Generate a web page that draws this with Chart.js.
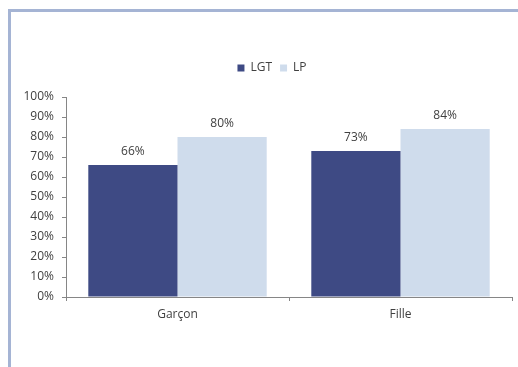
<!DOCTYPE html>
<html>
<head>
<meta charset="utf-8">
<script src="https://cdn.jsdelivr.net/npm/chart.js@4/dist/chart.umd.min.js"></script>
<style>
    html, body { margin: 0; padding: 0; background: #ffffff; }
    #wrap { position: relative; width: 518px; height: 367px; overflow: hidden; }
    #frame {
        position: absolute; left: 8px; top: 9px; width: 520px; height: 370px;
        border-top: 3px solid #a5b4d4; border-left: 3px solid #a5b4d4;
    }
    #chart { position: absolute; left: 0; top: 0; }
</style>
</head>
<body>
<div id="wrap">
    <div id="frame"></div>
    <canvas id="chart" width="518" height="367"></canvas>
</div>
<script>
// Categories and series (share in %)
const categories = ['Garçon', 'Fille'];
const lgtValues = [66, 73];
const lpValues = [80, 84];
const yTicks = [0, 10, 20, 30, 40, 50, 60, 70, 80, 90, 100];

const TEXT_COLOR = '#404040';
const AXIS_COLOR = '#868686';
const FONT = '"Open Sans", "DejaVu Sans", sans-serif';

// Extra room under the legend row, and legend nudged over the plot
const legendGap = {
    id: 'legendGap',
    afterInit(chart) {
        const fit = chart.legend.fit;
        chart.legend.fit = function () {
            fit.call(this);
            this.height += 13;
        };
    },
    afterLayout(chart) {
        chart.legend.left += 8;
        chart.legend.right += 8;
    }
};

// Value labels above each bar
const valueLabels = {
    id: 'valueLabels',
    afterDatasetsDraw(chart) {
        const ctx = chart.ctx;
        ctx.save();
        ctx.font = '12px ' + FONT;
        ctx.fillStyle = TEXT_COLOR;
        ctx.textAlign = 'center';
        ctx.textBaseline = 'middle';
        chart.data.datasets.forEach((ds, i) => {
            chart.getDatasetMeta(i).data.forEach((bar, j) => {
                ctx.fillText(ds.data[j] + '%', bar.x, bar.y - 13);
            });
        });
        ctx.restore();
    }
};

Chart.defaults.font.family = FONT;
Chart.defaults.font.size = 12;
Chart.defaults.color = TEXT_COLOR;

new Chart(document.getElementById('chart'), {
    type: 'bar',
    data: {
        labels: categories,
        datasets: [
            { label: 'LGT', data: lgtValues, backgroundColor: '#3e4a84' },
            { label: 'LP', data: lpValues, backgroundColor: '#cfdcec' }
        ]
    },
    options: {
        responsive: false,
        animation: false,
        layout: { padding: { left: 16, right: 6, top: 54, bottom: 40 } },
        datasets: {
            bar: { categoryPercentage: 0.8, barPercentage: 1.0 }
        },
        plugins: {
            legend: {
                display: true,
                position: 'top',
                labels: { boxWidth: 7, boxHeight: 7, padding: 8, color: TEXT_COLOR }
            },
            tooltip: { enabled: false }
        },
        scales: {
            x: {
                grid: { display: true, drawOnChartArea: false, tickLength: 4, color: AXIS_COLOR },
                border: { color: AXIS_COLOR },
                ticks: { color: TEXT_COLOR, padding: 6 },
                afterFit(scale) { scale.height = 30; }
            },
            y: {
                min: 0,
                max: 100,
                afterBuildTicks(scale) { scale.ticks = yTicks.map(v => ({ value: v })); },
                grid: { display: true, drawOnChartArea: false, tickLength: 4, color: AXIS_COLOR },
                border: { color: AXIS_COLOR },
                ticks: { color: TEXT_COLOR, padding: 8, callback: v => v + '%' },
                afterFit(scale) { scale.width = 50; }
            }
        }
    },
    plugins: [legendGap, valueLabels]
});
</script>
</body>
</html>
